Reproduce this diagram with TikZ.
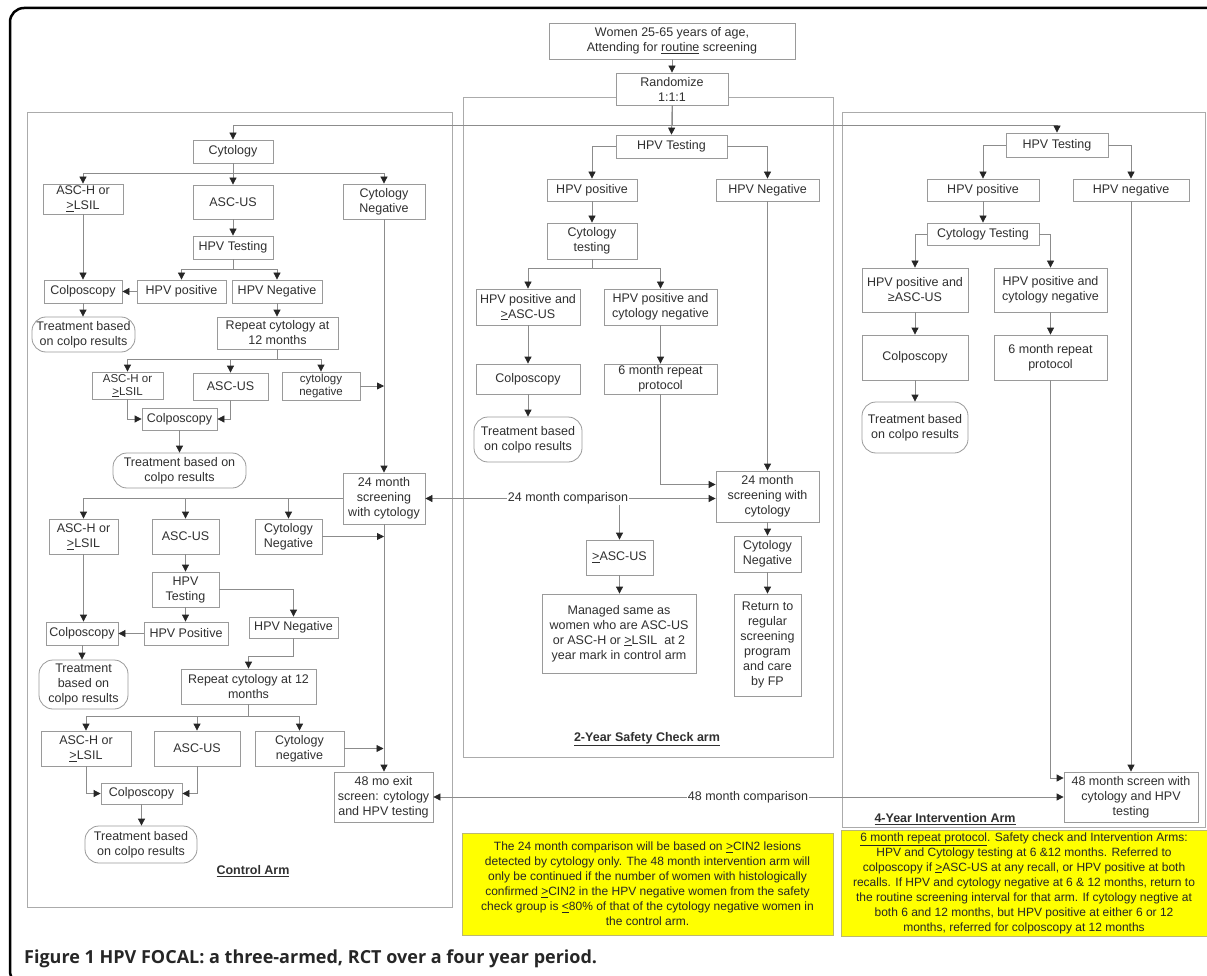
\documentclass[tikz,border=0pt]{standalone}
\usepackage{fontspec}
\setmainfont{Liberation Sans}
\newfontfamily\capfont{Open Sans}
\usetikzlibrary{arrows.meta,calc}
\definecolor{txt}{HTML}{303030}
\definecolor{bord}{HTML}{9A9A9A}
\definecolor{armc}{HTML}{ABABAB}
\definecolor{lnc}{HTML}{8C8C8C}
\definecolor{yel}{HTML}{FFFF00}
\newcommand\mybox[7][bx]{\node[#1,minimum width={(#5-#3)*1pt},minimum height={(#6-#4)*1pt}] (#2) at ({(#3+#5)/2},{(#4+#6)/2}) {#7};}
\begin{document}
\begin{tikzpicture}[x=1pt,y=-1pt,
  bx/.style={draw=bord,fill=white,text=txt,align=center,inner sep=1pt,font=\fontsize{12.5}{15}\selectfont,line width=0.8pt},
  sbx/.style={bx,font=\fontsize{11.5}{13}\selectfont},
  rbx/.style={bx,rounded corners=14pt},
  ybx/.style={draw=gray!60!yellow,fill=yel,text=black!85,align=center,inner sep=1pt,font=\fontsize{12}{15}\selectfont,line width=0.8pt},
  armbox/.style={draw=armc,line width=0.9pt},
  armlabel/.style={text=txt,font=\bfseries\fontsize{12.5}{15}\selectfont,inner sep=1pt},
  cmplabel/.style={fill=white,text=txt,font=\fontsize{12.5}{15}\selectfont,inner sep=1pt},
  ln/.style={draw=lnc,line width=0.8pt},
  arr/.style={ln,-{Triangle[length=7pt,width=7pt,color=black!85]}},
  arrtwo/.style={ln,{Triangle[length=7pt,width=7pt,color=black!85]}-{Triangle[length=7pt,width=7pt,color=black!85]}}]
\useasboundingbox (0,0) rectangle (1207,976);
% outer frame
\draw[line width=2.5pt,rounded corners=14pt] (10,8) rectangle (1240,985);
% arm boxes
\draw[armbox] (27,112) rectangle (452,907);
\draw[armbox] (463,97) rectangle (833,757);
\draw[armbox] (842,112) rectangle (1205,827);
% ---------- top
\mybox{women}{549}{23}{795}{59}{Women 25-65 years of age,\\Attending for \underline{routine} screening}
\mybox{rand}{616}{73}{728}{105}{Randomize\\1:1:1}
% ---------- middle arm
\mybox{mhpv}{616}{135}{727}{158}{HPV Testing}
\mybox{mpos}{547}{179}{637}{201}{HPV positive}
\mybox{mneg}{716}{179}{819}{201}{HPV Negative}
\mybox{mcyt}{547}{223}{637}{259}{Cytology\\testing}
\mybox{mposasc}{476}{289}{580}{325}{HPV positive and\\\underline{>}ASC-US}
\mybox{mposneg}{604}{289}{717}{325}{HPV positive and\\cytology negative}
\mybox{mcol}{476}{364}{580}{394}{Colposcopy}
\mybox{msix}{604}{364}{717}{394}{6 month repeat\\protocol}
\mybox[rbx]{mtr}{474}{417}{582}{462}{Treatment based\\on colpo results}
\mybox{mtwf}{716}{471}{819}{522}{24 month\\screening with\\cytology}
\mybox{masc}{586}{540}{653}{575}{\underline{>}ASC-US}
\mybox{mman}{542}{594}{696}{673}{Managed same as\\women who are ASC-US\\or ASC-H or \underline{>}LSIL~ at 2\\year mark in control arm}
\mybox{mcneg}{734}{536}{801}{572}{Cytology\\Negative}
\mybox{mret}{734}{594}{801}{696}{Return to\\regular\\screening\\program\\and care\\by FP}
% ---------- right arm
\mybox{rhpv}{1006}{133}{1108}{157}{HPV Testing}
\mybox{rpos}{927}{179}{1039}{201}{HPV positive}
\mybox{rneg}{1073}{179}{1189}{201}{HPV negative}
\mybox{rcyt}{927}{223}{1039}{245}{Cytology Testing}
\mybox{rposasc}{862}{268}{968}{312}{HPV positive and\\≥ASC-US}
\mybox{rposneg}{994}{268}{1107}{312}{HPV positive and\\cytology negative}
\mybox{rcol}{862}{335}{968}{380}{Colposcopy}
\mybox{rsix}{994}{335}{1107}{380}{6 month repeat\\protocol}
\mybox[rbx]{rtr}{862}{402}{968}{453}{Treatment based\\on colpo results}
\mybox{rfe}{1064}{772}{1198}{822}{48 month screen with\\cytology and HPV\\testing}
% ---------- control arm
\mybox{cyt}{193}{140}{273}{163}{Cytology}
\mybox{ascha}{43}{184}{123}{214}{ASC-H or\\\underline{>}LSIL}
\mybox{asca}{193}{185}{273}{219}{ASC-US}
\mybox{cnega}{343}{184}{425}{219}{Cytology\\Negative}
\mybox{chpva}{193}{236}{273}{259}{HPV Testing}
\mybox{cposa}{137}{280}{226}{303}{HPV positive}
\mybox{cnegha}{232}{280}{322}{303}{HPV Negative}
\mybox{ccola}{44}{280}{122}{303}{Colposcopy}
\mybox[rbx]{ctra}{32}{317}{135}{352}{Treatment based\\on colpo results}
\mybox{crepa}{217}{317}{338}{349}{Repeat cytology at\\12 months}
\mybox[sbx]{aschb}{92}{372}{163}{399}{ASC-H or\\\underline{>}LSIL}
\mybox{ascb}{193}{373}{268}{400}{ASC-US}
\mybox[sbx]{cnegb}{282}{372}{360}{400}{cytology\\negative}
\mybox{ccolb}{142}{408}{217}{430}{Colposcopy}
\mybox[rbx]{ctrb}{113}{453}{246}{488}{Treatment based on\\colpo results}
\mybox{ctwf}{343}{473}{425}{524}{24 month\\screening\\with cytology}
\mybox{aschc}{49}{519}{118}{554}{ASC-H or\\\underline{>}LSIL}
\mybox{ascc}{152}{519}{219}{554}{ASC-US}
\mybox{cnegc}{255}{519}{322}{554}{Cytology\\Negative}
\mybox{chpvc}{152}{572}{219}{607}{HPV\\Testing}
\mybox{cposc}{144}{622}{228}{645}{HPV Positive}
\mybox{cneghc}{249}{617}{338}{638}{HPV Negative}
\mybox{ccolc}{46}{622}{118}{645}{Colposcopy}
\mybox[rbx]{ctrc}{39}{660}{128}{709}{Treatment\\based on\\colpo results}
\mybox{crepc}{181}{669}{316}{704}{Repeat cytology at 12\\months}
\mybox{aschd}{41}{731}{131}{766}{ASC-H or\\\underline{>}LSIL}
\mybox{ascd}{154}{731}{240}{766}{ASC-US}
\mybox{cnegd}{255}{731}{344}{766}{Cytology\\negative}
\mybox{ccold}{101}{783}{182}{804}{Colposcopy}
\mybox[rbx]{ctrd}{85}{826}{197}{863}{Treatment based\\on colpo results}
\mybox{cfe}{334}{772}{433}{822}{48 mo exit\\screen: cytology\\and HPV testing}
% ---------- connectors: top
\draw[arr] (women.south) -- (rand.north);
\draw[arr] (rand.south) -- (mhpv.north);
\draw[arr] (rand.south) -- ++(0,20) -| (cyt.north);
\draw[arr] (rand.south) -- ++(0,20) -| (rhpv.north);
% control
\draw[arr] (cyt.south) -- ++(0,10) -| (ascha.north);
\draw[arr] (cyt.south) -- (cyt.south |- asca.north);
\draw[arr] (cyt.south) -- ++(0,10) -| (cnega.north);
\draw[arr] (asca.south) -- (asca.south |- chpva.north);
\draw[arr] (chpva.south) -- ++(0,10) -| (cposa.north);
\draw[arr] (chpva.south) -- ++(0,10) -| (cnegha.north);
\draw[arr] (cposa.west) -- (ccola.east);
\draw[arr] (ascha.south) -- (ascha.south |- ccola.north);
\draw[arr] (ccola.south) -- (ccola.south |- ctra.north);
\draw[arr] (cnegha.south) -- (cnegha.south |- crepa.north);
\draw[arr] (crepa.south) -- ++(0,10) -| (aschb.north);
\draw[arr] (crepa.south) -- ++(0,10) -| (ascb.north);
\draw[arr] (crepa.south) -- ++(0,10) -| (cnegb.north);
\draw[arr] (cnegb.east) -- (cnegb.east -| cnega.south);
\draw[arr] (aschb.south) |- (ccolb.west);
\draw[arr] (ascb.south) |- (ccolb.east);
\draw[arr] (ccolb.south) -- (ccolb.south |- ctrb.north);
\draw[arr] (cnega.south) -- (cnega.south |- ctwf.north);
\draw[arr] (ctwf.west) -| (aschc.north);
\draw[arr] (ctwf.west) -| (ascc.north);
\draw[arr] (ctwf.west) -| (cnegc.north);
\draw[arr] (cnegc.east) -- (cnegc.east -| ctwf.south);
\draw[arr] (ascc.south) -- (ascc.south |- chpvc.north);
\draw[arr] (chpvc.south) -- (chpvc.south |- cposc.north);
\draw[arr] (chpvc.east) -| (cneghc.north);
\draw[arr] (cposc.west) -- (cposc.west -| ccolc.east);
\draw[arr] (aschc.south) -- (aschc.south |- ccolc.north);
\draw[arr] (ccolc.south) -- (ccolc.south |- ctrc.north);
\draw[arr] (cneghc.south) -- ++(0,18) -| (crepc.north);
\draw[arr] (crepc.south) -- ++(0,12) -| (aschd.north);
\draw[arr] (crepc.south) -- ++(0,12) -| (ascd.north);
\draw[arr] (crepc.south) -- ++(0,12) -| (cnegd.north);
\draw[arr] (cnegd.east) -- (cnegd.east -| cfe.north);
\draw[arr] (aschd.south) |- (ccold.west);
\draw[arr] (ascd.south) |- (ccold.east);
\draw[arr] (ccold.south) -- (ccold.south |- ctrd.north);
\draw[arr] (ctwf.south) -- (ctwf.south |- cfe.north);
% middle
\draw[arr] (mhpv.west) -| (mpos.north);
\draw[arr] (mhpv.east) -| (mneg.north);
\draw[arr] (mpos.south) -- (mpos.south |- mcyt.north);
\draw[arr] (mcyt.south) -- ++(0,9) -| (mposasc.north);
\draw[arr] (mcyt.south) -- ++(0,9) -| (mposneg.north);
\draw[arr] (mposasc.south) -- (mposasc.south |- mcol.north);
\draw[arr] (mcol.south) -- (mcol.south |- mtr.north);
\draw[arr] (mposneg.south) -- (mposneg.south |- msix.north);
\draw[arr] (msix.south) |- ($(mtwf.west)+(0,-12)$);
\draw[arr] (mneg.south) -- (mneg.south |- mtwf.north);
\draw[arr] (mtwf.south) -- (mtwf.south |- mcneg.north);
\draw[arr] (mcneg.south) -- (mcneg.south |- mret.north);
\draw[arr] (masc.south) -- (masc.south |- mman.north);
% right
\draw[arr] (rhpv.west) -| (rpos.north);
\draw[arr] (rhpv.east) -| (rneg.north);
\draw[arr] (rpos.south) -- (rpos.south |- rcyt.north);
\draw[arr] (rcyt.west) -| (rposasc.north);
\draw[arr] (rcyt.east) -| (rposneg.north);
\draw[arr] (rposasc.south) -- (rposasc.south |- rcol.north);
\draw[arr] (rcol.south) -- (rcol.south |- rtr.north);
\draw[arr] (rposneg.south) -- (rposneg.south |- rsix.north);
\draw[arr] (rsix.south) |- ($(rfe.west)+(0,-19)$);
\draw[arr] (rneg.south) -- (rneg.south |- rfe.north);
% comparisons
\draw[arrtwo] (ctwf.east) -- (ctwf.east -| mtwf.west);
\node[cmplabel] (cmpa) at (568,498) {24 month comparison};
\draw[arr] (masc.north |- cmpa.south) -- (masc.north);
\draw[arrtwo] (cfe.east) -- (cfe.east -| rfe.west);
\node[cmplabel] (cmpb) at (748,797) {48 month comparison};
% arm labels
\node[armlabel] (labc) at (253,871) {\underline{Control Arm}};
\node[armlabel] (labm) at (647,739) {\underline{2-Year Safety Check arm}};
\node[armlabel] (labr) at (945,819) {\underline{4-Year Intervention Arm}};
% yellow notes
\mybox[ybx]{nota}{462}{833}{833}{935}{The 24 month comparison will be based on \underline{>}CIN2 lesions\\detected by cytology only. The 48 month intervention arm will\\only be continued if the number of women with histologically\\confirmed \underline{>}CIN2 in the HPV negative women from the safety\\check group is \underline{<}80\% of that of the cytology negative women in\\the control arm.}
\mybox[ybx]{notb}{841}{830}{1207}{936}{\underline{6 month repeat protocol}. Safety check and Intervention Arms:\\HPV and Cytology testing at 6 \&12 months. Referred to\\colposcopy if \underline{>}ASC-US at any recall, or HPV positive at both\\recalls. If HPV and cytology negative at 6 \& 12 months, return to\\the routine screening interval for that arm. If cytology negtive at\\both 6 and 12 months, but HPV positive at either 6 or 12\\months, referred for colposcopy at 12 months}
% caption
\node[anchor=west,inner sep=0pt,font=\capfont\bfseries\fontsize{18}{20}\selectfont,text=black!85] (cap) at (24,959) {Figure 1 HPV FOCAL: a three-armed, RCT over a four year period.};
\end{tikzpicture}
\end{document}
